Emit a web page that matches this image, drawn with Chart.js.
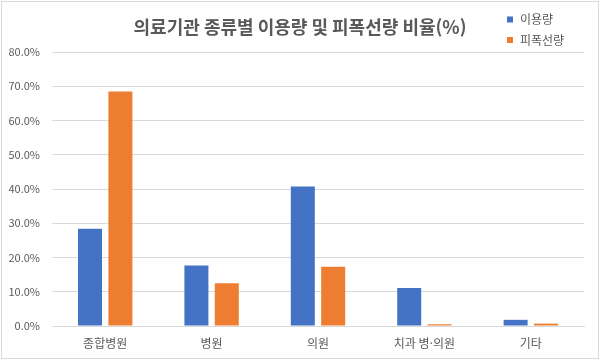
<!DOCTYPE html>
<html lang="ko">
<head>
<meta charset="utf-8">
<script src="https://cdn.jsdelivr.net/npm/chart.js@4/dist/chart.umd.min.js"></script>
<style>
    html, body { margin: 0; padding: 0; background: #fff; }
    #wrap { width: 600px; height: 360px; position: relative; }
</style>
</head>
<body>
<div id="wrap"><canvas id="chart" width="600" height="360"></canvas></div>
<script>
const titleText = '의료기관 종류별 이용량 및 피폭선량 비율(%)';
const categories = ['종합병원', '병원', '의원', '치과 병·의원', '기타'];
const seriesNames = ['이용량', '피폭선량'];
const usageValues = [28.4, 17.7, 40.7, 11.1, 1.8];
const doseValues = [68.5, 12.5, 17.3, 0.5, 0.7];
const seriesColors = ['#4472C4', '#ED7D31'];

const textColor = '#595959';
const fontFamily = "'Noto Sans CJK KR', 'Noto Sans', sans-serif";

// title, legend and outer frame drawn on top of the chart
const decorPlugin = {
    id: 'decor',
    afterDraw(chart) {
        const ctx = chart.ctx;
        ctx.save();
        ctx.strokeStyle = '#d9d9d9';
        ctx.lineWidth = 1;
        ctx.strokeRect(1.5, 1.5, 597, 357);

        ctx.fillStyle = textColor;
        ctx.font = `bold 18px ${fontFamily}`;
        ctx.textAlign = 'center';
        ctx.textBaseline = 'middle';
        ctx.fillText(titleText, 300, 27);

        ctx.font = `12px ${fontFamily}`;
        ctx.textAlign = 'left';
        chart.data.datasets.forEach((ds, i) => {
            const y = 19.5 + i * 20.5;
            ctx.fillStyle = ds.backgroundColor;
            ctx.fillRect(507, y - 3, 6, 6);
            ctx.fillStyle = textColor;
            ctx.fillText(ds.label, 520, y);
        });
        ctx.restore();
    }
};

function initChart() {
    const ctx = document.getElementById('chart').getContext('2d');
    return new Chart(ctx, {
        type: 'bar',
        data: {
            labels: categories,
            datasets: [
                { label: seriesNames[0], data: usageValues, backgroundColor: seriesColors[0] },
                { label: seriesNames[1], data: doseValues, backgroundColor: seriesColors[1] }
            ]
        },
        options: {
            responsive: false,
            animation: false,
            categoryPercentage: 0.571,
            barPercentage: 0.79,
            layout: { padding: { top: 52, right: 16, bottom: 0, left: 0 } },
            plugins: {
                legend: { display: false },
                title: { display: false },
                tooltip: { enabled: false }
            },
            scales: {
                x: {
                    grid: { display: false, drawTicks: false },
                    border: { color: '#d9d9d9', width: 1 },
                    ticks: {
                        color: textColor,
                        font: { family: fontFamily, size: 12 },
                        padding: 10,
                        maxRotation: 0
                    },
                    afterFit(scale) { scale.height = 34; }
                },
                y: {
                    min: 0,
                    max: 80,
                    grid: { color: '#d9d9d9', lineWidth: 1, drawTicks: false },
                    border: { display: false },
                    ticks: {
                        stepSize: 10,
                        color: textColor,
                        font: { family: fontFamily, size: 11 },
                        padding: 12,
                        callback: v => v.toFixed(1) + '%'
                    },
                    afterFit(scale) { scale.width = 52; }
                }
            }
        },
        plugins: [decorPlugin]
    });
}

initChart();
</script>
</body>
</html>
